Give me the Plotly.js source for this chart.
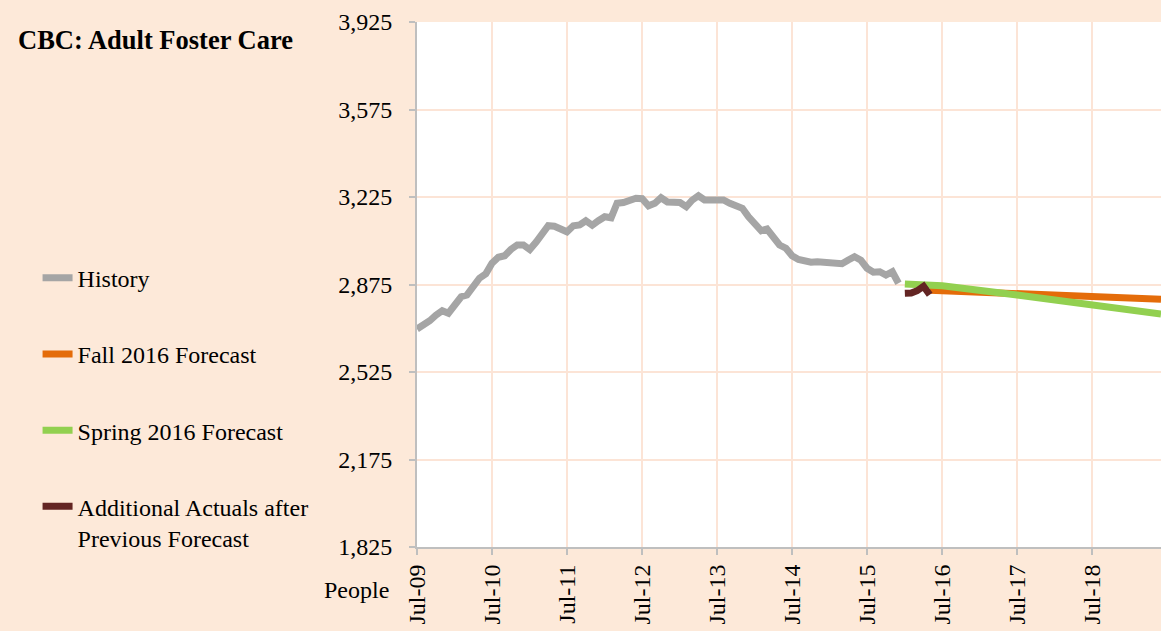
<!DOCTYPE html>
<html>
<head>
<meta charset="utf-8">
<script src="https://cdn.plot.ly/plotly-3.0.1.min.js"></script>
<style>
  html, body { margin: 0; padding: 0; background: #FDE9D9; }
  #chart { width: 1161px; height: 631px; }
</style>
</head>
<body>
<div id="chart"></div>
<script>
// ---- Data ----
// History: monthly, Jul-2009 .. Dec-2015
const historyStart = [2009, 7];
const historyValues = [
  2697, 2712, 2730, 2752, 2770, 2760, 2790, 2826, 2833, 2865, 2900, 2918,
  2960, 2984, 2990, 3015, 3033, 3033, 3015, 3045, 3075, 3110, 3108, 3097,
  3086, 3110, 3113, 3130, 3112, 3130, 3146, 3142, 3200, 3203, 3212, 3220,
  3218, 3190, 3200, 3222, 3205, 3203, 3203, 3186, 3212, 3230, 3213, 3213,
  3215, 3213, 3200, 3187, 3180, 3146, 3115, 3090, 3097, 3066, 3033, 3020,
  2990, 2975, 2969, 2964, 2966, 2964, 2966, 2960, 2958, 2973, 2986, 2972,
  2940, 2924, 2926, 2913, 2926, 2880
];
// Additional actuals after previous forecast: Jan-2016 .. May-2016
const actualsStart = [2016, 1];
const actualsValues = [2840, 2841, 2850, 2868, 2834];
// Fall 2016 forecast (points read at these dates)
const fallDates = ['2016-05-01', '2016-07-01', '2017-07-01', '2018-07-01', '2019-06-01'];
const fallValues = [2852, 2850, 2837, 2826, 2816];
// Spring 2016 forecast
const springDates = ['2016-01-01', '2016-07-01', '2017-07-01', '2018-07-01', '2019-06-01'];
const springValues = [2877, 2870, 2833, 2793, 2757];

const yTicks = [1825, 2175, 2525, 2875, 3225, 3575, 3925];

function monthDates(start, n) {
  const out = [];
  for (let i = 0; i < n; i++) {
    const t = (start[1] - 1) + i;
    const y = start[0] + Math.floor(t / 12);
    const m = (t % 12) + 1;
    out.push(y + '-' + String(m).padStart(2, '0') + '-01');
  }
  return out;
}

const FONT = 'Liberation Serif, Times New Roman, serif';
const LW = 7;

const traces = [
  { name: 'History', x: monthDates(historyStart, historyValues.length), y: historyValues,
    mode: 'lines', line: { color: '#A5A5A5', width: LW }, legendgroup: 'a' },
  { name: 'Fall 2016 Forecast', x: fallDates, y: fallValues,
    mode: 'lines', line: { color: '#E46C0A', width: LW }, legendgroup: 'b' },
  { name: 'Spring 2016 Forecast', x: springDates, y: springValues,
    mode: 'lines', line: { color: '#92D050', width: LW }, legendgroup: 'c' },
  { name: 'Additional Actuals after<br>Previous Forecast', x: monthDates(actualsStart, actualsValues.length), y: actualsValues,
    mode: 'lines', line: { color: '#632523', width: LW }, legendgroup: 'd' }
];

const layout = {
  width: 1161, height: 631,
  paper_bgcolor: '#FDE9D9',
  plot_bgcolor: '#FFFFFF',
  margin: { l: 417, r: 0, t: 22, b: 84, pad: 0 },
  font: { family: FONT, size: 24, color: '#000000' },
  title: { text: '<b>CBC: Adult Foster Care</b>', font: { family: FONT, size: 26.5, color: '#000' },
           x: 18 / 1161, xanchor: 'left', y: 1 - 40 / 631, yanchor: 'middle' },
  showlegend: true,
  legend: { x: -0.51, xanchor: 'left', y: 0.555, yanchor: 'top',
            bgcolor: 'rgba(0,0,0,0)', font: { family: FONT, size: 24 },
            traceorder: 'grouped', tracegroupgap: 42, valign: 'top' },
  xaxis: {
    type: 'date', range: ['2009-07-01', '2019-06-01'],
    tick0: '2009-07-01', dtick: 'M12', tickformat: '%b-%y', tickangle: -90,
    showgrid: true, gridcolor: '#FCE4D6', gridwidth: 2,
    showline: true, linecolor: '#BFBFBF', linewidth: 2,
    ticks: 'outside', ticklen: 6, tickcolor: '#BFBFBF', tickwidth: 2,
    tickfont: { family: FONT, size: 24 }, zeroline: false, fixedrange: true
  },
  yaxis: {
    range: [1825, 3925], tickvals: yTicks, tickformat: ',d',
    showgrid: true, gridcolor: '#FCE4D6', gridwidth: 2,
    showline: true, linecolor: '#BFBFBF', linewidth: 2,
    ticks: 'outside', ticklen: 6, tickcolor: '#BFBFBF', tickwidth: 2,
    tickfont: { family: FONT, size: 24 }, zeroline: false, fixedrange: true,
    ticklabelstandoff: 12
  },
  annotations: [
    { text: 'People', xref: 'paper', yref: 'paper', x: (391 - 417) / 744, y: 1 - (590 - 22) / 525,
      xanchor: 'right', yanchor: 'middle', showarrow: false, font: { family: FONT, size: 24 } }
  ]
};

Plotly.newPlot('chart', traces, layout, { staticPlot: true, displayModeBar: false });
</script>
</body>
</html>
